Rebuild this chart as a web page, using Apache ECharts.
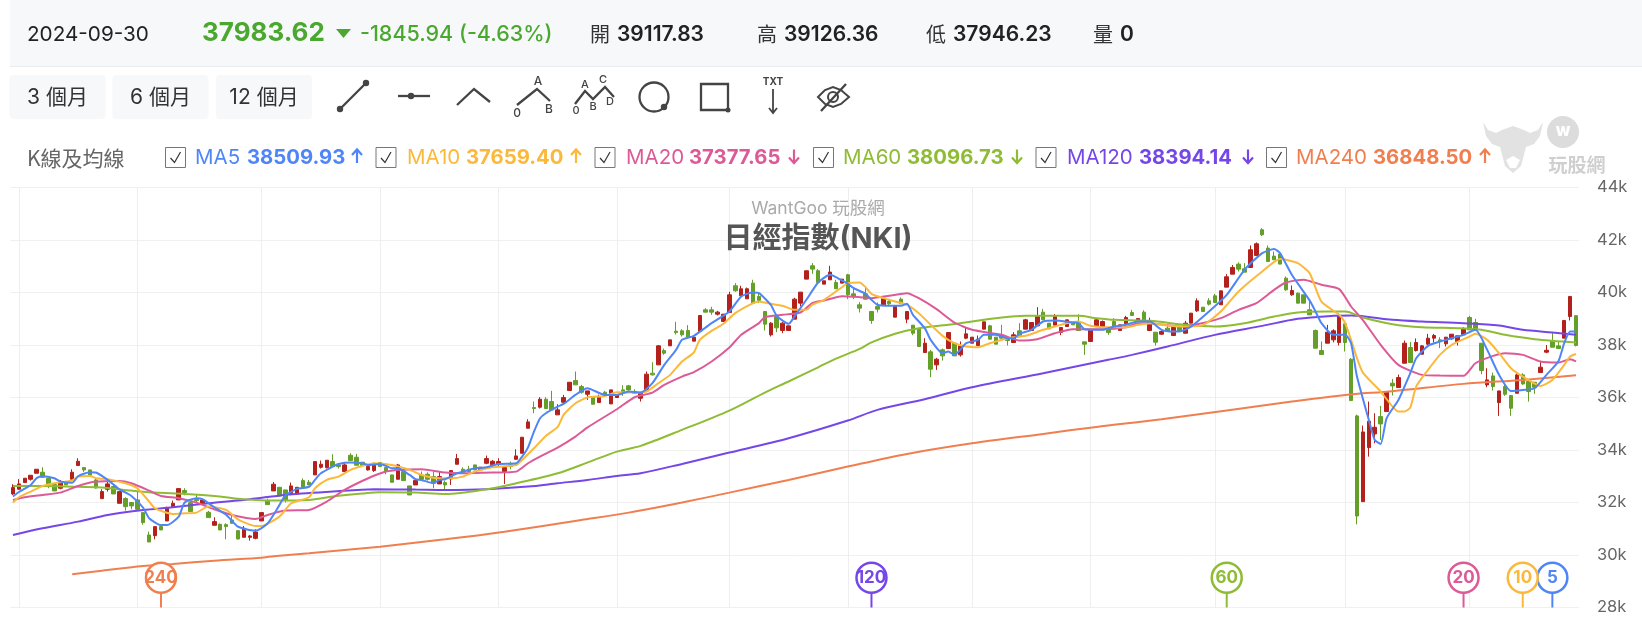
<!DOCTYPE html>
<html><head><meta charset="utf-8">
<script src="https://cdn.jsdelivr.net/npm/echarts@6/dist/echarts.min.js"></script>
<style>html,body{margin:0;padding:0;background:#fff}#c{width:1642px;height:624px}</style>
</head><body><div id="c"></div>
<script>
// [open, close, low, high]
const ohlc = [
[32326,32568,32290,32695],[32505,32708,32480,32890],[32760,32925,32760,32925],[32885,33038,32835,33038],[33114,33267,33114,33267],
[33153,32962,32962,33343],[32924,32670,32543,32924],[32682,32441,32441,32682],[32543,32771,32500,32860],[32771,32670,32670,32771],
[32885,33153,32860,33267],[33407,33572,33407,33687],[33330,33241,33165,33330],[33241,33038,33000,33241],[32860,32555,32530,32910],
[32148,32415,32148,32505],[32505,32708,32415,32797],[32606,32326,32326,32670],[31970,32415,31970,32415],[32148,31843,31690,32200],
[32000,31870,31740,32000],[32100,31740,31740,32415],[31615,31233,31157,31615],[30763,30496,30496,30890],[30738,31081,30598,31081],
[31081,30954,30954,31145],[31297,31780,31297,31843],[31843,31970,31843,32072],[32098,32530,32098,32530],[32454,32378,32275,32543],
[31995,31653,31653,32100],[32123,32072,31970,32301],[31970,32098,31945,32123],[31627,31424,31424,31680],[31132,31272,31132,31437],
[31170,30954,30954,31200],[31157,31081,30598,31208],[31335,31208,31208,31500],[30928,30610,30598,30928],[30674,31017,30674,31106],
[30674,30725,30547,30763],[30636,30877,30598,30979],[31297,31615,31297,31615],[32072,31920,31920,32148],[32441,32695,32441,32780],
[32580,32250,32250,32580],[32479,32098,32000,32479],[32326,32632,32275,32760],[32326,32580,32326,32580],[32834,32555,32555,32920],
[32771,32670,32670,32860],[33051,33560,33051,33560],[33343,33458,33293,33598],[33330,33610,33293,33610],[33560,33369,33369,33839],
[33432,33369,33293,33432],[33178,33432,33178,33490],[33800,33597,33597,33877],[33725,33420,33420,33852],[33534,33407,33407,33534],
[33241,33369,33216,33432],[33216,33470,33165,33520],[33521,33369,33369,33521],[33330,33178,33076,33330],[33051,32771,32771,33051],
[32885,33432,32885,33470],[33178,32834,32834,33178],[32631,32288,32288,32631],[32669,32834,32669,32900],[33050,32885,32834,33180],
[33076,32885,32834,33150],[32987,32733,32542,33178],[32707,32987,32707,33178],[32758,32669,32504,32834],[32898,33215,32669,33215],
[33457,33673,33457,33850],[33266,33139,33139,33342],[33266,33177,33177,33393],[33431,33241,33241,33431],[33241,33342,33241,33342],
[33495,33673,33457,33787],[33444,33571,33444,33622],[33469,33558,33368,33685],[33177,33329,32707,33329],[33431,33368,33266,33558],
[33647,33774,33622,34029],[33876,34486,33876,34486],[34829,35071,34829,35173],[35618,35580,35402,35847],[35630,35935,35580,36012],
[35935,35580,35580,36012],[35846,35529,35529,36253],[35339,35529,35339,35745],[35820,35998,35782,36100],[36265,36582,36265,36582],
[36646,36481,36481,36989],[36417,36201,36150,36481],[36125,36252,35909,36252],[36010,35743,35743,36010],[35807,36010,35807,36110],
[36201,36087,36087,36252],[35756,36290,35756,36290],[36000,36100,36000,36100],[36290,36227,36061,36468],[36443,36290,36252,36481],
[36227,36163,36163,36316],[35972,36163,35845,36163],[36265,36888,36265,36989],[36926,36862,36837,37345],[37243,37968,37243,38000],
[37790,37689,37625,37866],[37968,38197,37968,38197],[38527,38476,38400,38883],[38540,38387,38324,38603],[38552,38298,38298,38756],
[38146,38298,38146,38298],[38514,39124,38514,39124],[39341,39252,39252,39404],[39341,39252,39150,39455],[39175,39252,39124,39302],
[38896,39175,38896,39175],[39239,39912,39239,40027],[40256,40065,40027,40357],[39874,40141,39874,40256],[39760,40141,39760,40190],
[40357,39595,39595,40484],[39849,39696,39595,39976],[39277,38794,38552,39277],[38387,38832,38324,38870],[39086,38654,38489,39086],
[38552,38832,38451,38870],[38552,38730,38552,38730],[38985,39747,38985,39800],[39595,40014,39468,40014],[40510,40828,40510,40828],
[41018,40891,40713,41120],[40828,40383,40383,40891],[40319,40446,40319,40446],[40484,40777,40484,41018],[40383,40141,40141,40484],
[40357,40510,40357,40510],[40675,39912,39747,40713],[39950,39850,39747,40205],[39531,39404,39239,39633],[39950,39747,39747,40205],
[39277,38934,38806,39277],[39468,39366,39239,39620],[39531,39785,39531,39785],[39658,39570,39493,39722],[39060,39468,39060,39468],
[39747,39570,39570,39811],[38984,39277,38832,39277],[38755,38450,38374,38755],[38603,37942,37942,38603],[37713,38069,37713,38260],
[37739,37078,36773,37815],[37243,37459,37052,37510],[37815,37586,37408,37866],[37866,38476,37866,38476],[38069,37586,37586,38069],
[37624,37967,37560,38133],[38260,38425,38222,38654],[38069,38298,38069,38298],[37980,38222,37980,38362],[38603,38883,38603,38883],
[38730,38222,38222,38768],[38298,38031,38031,38298],[38350,38260,38196,38768],[38260,38171,37980,38260],[38095,38387,38095,38489],
[38540,38349,38349,38832],[38603,38959,38603,38997],[38552,38857,38552,38857],[38730,39086,38730,39442],[39251,38959,38959,39378],
[38832,38616,38616,38832],[38755,39086,38755,39180],[38476,38666,38374,38666],[38705,38959,38705,38959],[38849,38768,38768,38849],
[38832,38552,38552,39175],[38120,38031,37624,38120],[38133,38578,38133,38578],[38730,38959,38730,39000],[38679,38895,38679,38934],
[38641,38476,38387,38641],[38895,38641,38641,39023],[38552,38768,38552,38768],[38806,39048,38806,39112],[39239,39124,39124,39340],
[38950,39010,38950,39010],[39251,38920,38920,39325],[38552,38920,38552,39040],[38488,38107,37980,38488],[38412,38513,38387,38564],
[38641,38513,38513,38768],[38361,38666,38361,38730],[38704,38513,38513,38704],[38450,38831,38450,38920],[38831,39213,38831,39213],
[39301,39683,39260,39780],[39441,39276,39276,39441],[39683,39556,39505,39785],[39873,39619,39619,39950],[39531,40064,39531,40064],
[40204,40598,40204,40700],[40700,40954,40700,41050],[41081,40890,40800,41150],[40903,40776,40776,41119],[40954,41627,40954,41793],
[41411,41856,41411,41907],[42390,42199,42150,42450],[41691,41183,41183,41793],[41386,41246,41246,41564],[41462,41081,41081,41500],
[40547,40102,40064,40610],[39912,40077,39875,40268],[39975,39594,39594,40000],[39912,39594,39594,39912],[39340,39149,39149,39683],
[38552,37879,37879,38590],[37790,37637,37637,38133],[38069,38489,38069,38768],[38196,38540,38100,38600],[38095,39086,37980,39213],
[38806,38095,37752,38806],[37459,35883,35883,37500],[35298,31485,31168,35350],[32032,34688,32032,34930],[34091,35095,33748,35845],
[34612,34866,34256,35400],[35273,34993,34383,35680],[35464,36226,35464,36226],[36544,36442,36074,36709],[36379,36760,36379,36874],
[37306,38069,37306,38171],[37904,37332,37332,38120],[37790,38095,37751,38247],[37650,37967,37650,38000],[38031,38260,37980,38425],
[38260,38362,38095,38425],[38197,38158,37879,38298],[38044,38298,37942,38298],[38235,38412,38200,38412],[38133,38349,37980,38349],
[38387,38603,38387,38680],[39048,38578,38578,39112],[38857,38616,38616,38997],[38069,37027,36887,38069],[36480,36671,36391,37116],
[36823,36417,36264,36950],[35807,36251,35299,36251],[36417,36124,36061,36480],[36073,35591,35299,36073],[36162,36861,36162,36925],
[36861,36518,36480,36925],[36607,36226,35845,36607],[36582,36391,36137,36582],[36951,37154,36951,37370],[37727,37800,37688,38000],
[38158,37917,37917,38450],[37968,37866,37866,38133],[38260,38934,38260,38934],[39086,39849,38934,39849],[39117.83,37983.62,37946.23,39126.36]
];
const categories = ohlc.map((_, i) => String(i));
const monthStarts = [1,21,42,62,82,102,121,141,162,182,203,225,246];
const yTicks = ['28k','30k','32k','34k','36k','38k','40k','42k','44k'];

const ma5 = [[0,32225],[1,32400],[3,32670],[4,32930],[5,33000],[7,32924],[8,32800],[10,32748],[11,33000],[13,33153],[14,33140],[16,32860],[18,32500],[20,32250],[22,31800],[23,31400],[25,31140],[26,31140],[28,31460],[29,32000],[31,32160],[32,32125],[34,31820],[36,31530],[38,31080],[40,30950],[41,30930],[43,31200],[45,31900],[46,32270],[48,32520],[50,32600],[51,32860],[52,33113],[54,33368],[55,33470],[57,33520],[59,33495],[60,33431],[62,33470],[63,33393],[64,33304],[65,33304],[67,33050],[68,32885],[69,32860],[71,32733],[72,32860],[73,32885],[75,33113],[77,33241],[78,33304],[80,33342],[82,33470],[85,33495],[86,33749],[87,34100],[88,34700],[89,35200],[90,35400],[92,35650],[93,35756],[95,36100],[97,36354],[100,36100],[102,36100],[104,36227],[106,36188],[108,36544],[110,37243],[112,37815],[113,38197],[115,38349],[118,38832],[121,39277],[123,39849],[125,40001],[126,39976],[128,39531],[129,39112],[131,38807],[132,39086],[134,39722],[136,40383],[138,40675],[140,40459],[141,40332],[142,40166],[144,39950],[145,39722],[146,39531],[148,39493],[150,39493],[151,39569],[152,39150],[154,38641],[155,38196],[157,37688],[158,37751],[159,37624],[160,37815],[161,38069],[163,38196],[164,38387],[166,38387],[168,38260],[169,38260],[170,38425],[172,38578],[174,38895],[176,38933],[179,38857],[180,38832],[181,38603],[184,38578],[186,38705],[188,38768],[190,38895],[192,38895],[194,38577],[196,38513],[197,38513],[199,38704],[202,39276],[205,39911],[208,40865],[211,41500],[213,41653],[214,41500],[216,40674],[219,39700],[220,39276],[221,38832],[223,38387],[225,38387],[226,38069],[227,36798],[229,35146],[230,34383],[231,34231],[232,35209],[234,35908],[236,36925],[237,37497],[239,37967],[241,38133],[243,38260],[245,38387],[247,38578],[249,37815],[251,36862],[253,36252],[255,36290],[257,36353],[259,36862],[261,37370],[262,38069],[263,38514],[264,38509.93]];
const ma10 = [[0,32000],[1,32200],[3,32415],[5,32630],[7,32733],[10,32835],[11,32987],[13,33013],[14,32924],[16,32886],[19,32733],[21,32542],[23,32034],[24,31780],[27,31564],[29,31589],[31,31615],[33,31843],[36,31716],[38,31360],[41,31106],[42,31106],[45,31462],[47,31970],[50,32200],[51,32541],[53,32860],[55,32987],[57,33241],[59,33393],[61,33495],[64,33431],[67,33241],[69,33050],[72,32923],[74,32923],[76,32987],[78,33177],[81,33342],[85,33431],[86,33622],[88,34067],[90,34537],[92,34880],[93,35337],[95,35782],[97,35998],[100,36061],[102,36201],[105,36188],[107,36227],[109,36544],[111,36862],[113,37370],[115,37714],[116,38197],[118,38540],[120,38807],[122,39213],[125,39595],[126,39658],[128,39569],[130,39493],[132,39340],[134,39340],[135,39531],[137,39722],[140,40200],[141,40357],[143,40382],[144,40204],[145,39950],[147,39785],[149,39658],[151,39531],[153,39213],[155,38768],[157,38349],[159,38069],[161,37942],[163,37916],[165,38069],[168,38260],[171,38349],[174,38578],[176,38705],[178,38832],[180,38895],[182,38730],[184,38679],[188,38679],[190,38768],[192,38831],[195,38742],[198,38704],[201,38768],[204,39276],[207,40039],[211,40801],[214,41272],[217,41119],[219,40738],[221,39650],[224,39149],[225,38832],[226,38200],[227,37500],[228,36950],[231,36226],[233,35654],[234,35464],[235,35464],[236,35616],[237,36417],[239,37052],[241,37624],[243,38006],[246,38323],[247,38425],[249,38196],[251,37688],[253,37116],[255,36798],[258,36442],[260,36671],[262,37243],[263,37561],[264,37659.40]];
const ma20 = [[0,32098],[2,32200],[5,32288],[8,32377],[11,32631],[14,32796],[18,32822],[20,32733],[23,32454],[25,32250],[28,32161],[31,31995],[34,31742],[37,31526],[41,31373],[43,31526],[46,31691],[50,31716],[53,32034],[56,32479],[60,32924],[63,33178],[65,33241],[69,33266],[73,33139],[76,33113],[81,33139],[85,33177],[87,33495],[89,33748],[92,34091],[95,34511],[97,34854],[102,35553],[105,36010],[108,36188],[110,36481],[113,36798],[115,36964],[118,37370],[121,37904],[123,38387],[126,38832],[127,39061],[130,39150],[133,39239],[135,39595],[137,39696],[140,39860],[143,39823],[145,39785],[148,39874],[151,39976],[153,39785],[156,39366],[159,38857],[162,38578],[167,38387],[170,38171],[173,38222],[176,38450],[179,38603],[184,38603],[188,38679],[190,38832],[192,38831],[197,38704],[200,38793],[204,39022],[207,39340],[210,39594],[213,40102],[215,40382],[218,40490],[221,40293],[224,40128],[226,39467],[228,38950],[231,38006],[234,37243],[238,36862],[241,36836],[245,36824],[247,37306],[250,37586],[252,37688],[255,37624],[258,37370],[261,37332],[263,37459],[264,37377.65]];
const ma60 = [[0,32632],[5,32632],[9,32606],[15,32568],[20,32454],[24,32377],[29,32326],[34,32250],[39,32123],[44,32072],[50,32098],[54,32225],[59,32340],[62,32389],[68,32377],[73,32326],[80,32504],[85,32733],[92,33113],[97,33519],[102,33939],[106,34156],[113,34766],[121,35503],[127,36189],[131,36609],[136,37150],[139,37480],[143,37850],[145,38100],[149,38430],[153,38641],[158,38768],[162,38895],[167,39048],[171,39112],[176,39112],[180,39112],[183,39022],[186,38959],[192,38920],[198,38768],[203,38704],[208,38831],[213,39085],[217,39238],[222,39276],[225,39277],[228,39048],[233,38794],[238,38679],[244,38641],[248,38578],[252,38387],[257,38222],[264,38096.73]];
const ma120 = [[0,30763],[5,31017],[11,31271],[16,31526],[22,31716],[27,31818],[33,31970],[40,32123],[46,32288],[54,32415],[61,32504],[68,32491],[73,32478],[80,32504],[87,32605],[92,32733],[97,32858],[102,33011],[106,33114],[113,33470],[121,33902],[131,34448],[141,35122],[146,35528],[154,35935],[162,36393],[174,36927],[185,37435],[189,37624],[195,37942],[203,38386],[211,38729],[217,38996],[223,39111],[226,39124],[233,38959],[238,38895],[245,38832],[251,38743],[255,38578],[260,38476],[264,38394.14]];
const ma240 = [[10,29263],[15,29403],[22,29581],[27,29657],[34,29784],[42,29899],[45,29970],[50,30064],[62,30318],[73,30598],[83,30890],[96,31335],[104,31614],[113,32000],[121,32376],[131,32860],[141,33368],[151,33851],[162,34257],[174,34613],[183,34880],[194,35173],[216,35845],[225,36099],[233,36240],[245,36519],[255,36671],[264,36848.50]];

const maNames = ['MA5','MA10','MA20','MA60','MA120','MA240'];
const maLast = ['38509.93','37659.40','37377.65','38096.73','38394.14','36848.50'];
const maRising = [true,true,false,false,false,true];
const maColors = ['#4f86f7','#fbb93c','#dc5a96','#8fbc35','#7546e8','#f07f4f'];
const maBadges = ['5','10','20','60','120','240'];
const badgeIndex = [260,255,245,205,145,25];
const badgeValue = 29136;
const rangeButtons = ['3 個月','6 個月','12 個月'];
const quote = {date:'2024-09-30',last:'37983.62',change:'-1845.94 (-4.63%)',open:'39117.83',high:'39126.36',low:'37946.23',vol:'0'};

const FF = 'Inter, "Noto Sans CJK TC", sans-serif';
const CJK = '"Noto Sans CJK TC", Inter, sans-serif';
const txt = (text,x,y,font,fill,align) => ({type:'text',silent:true,z:10,style:{text,x,y,font,fill,align:align||'left',verticalAlign:'middle'}});
const pline = (points,stroke,w) => ({type:'polyline',silent:true,z:10,shape:{points},style:{stroke,lineWidth:w||2.3,fill:null}});
const dot = (cx,cy,r,fill) => ({type:'circle',silent:true,z:10,shape:{cx,cy,r},style:{fill}});
const ICON = '#444';
const g = [];
// header band
g.push({type:'rect',silent:true,z:1,shape:{x:10,y:0,width:1632,height:66},style:{fill:'#f7f8fa'}});
g.push({type:'rect',silent:true,z:1,shape:{x:10,y:66,width:1632,height:1},style:{fill:'#e9ecef'}});
g.push(txt(quote.date,27,35,'400 20.7px '+FF,'#222'));
g.push(txt(quote.last,202,33.5,'700 26px '+FF,'#4aa82f'));
g.push({type:'polygon',silent:true,z:10,shape:{points:[[336,29],[351,29],[343.5,38]]},style:{fill:'#4aa82f'}});
g.push(txt(quote.change,360,35,'500 21.5px '+FF,'#4aa82f'));
[['開',quote.open,590,617],['高',quote.high,757,784],['低',quote.low,926,953],['量',quote.vol,1093,1120]].forEach(a=>{
  g.push(txt(a[0],a[2],34.5,'400 20px '+CJK,'#333'));
  g.push(txt(a[1],a[3],34.5,'600 21px '+FF,'#222'));
});
// range buttons
[[9.5,96],[112.5,96],[216,96]].forEach((b,i)=>{
  g.push({type:'rect',silent:true,z:2,shape:{x:b[0],y:75,width:b[1],height:44,r:4},style:{fill:'#f7f8fa'}});
  g.push(txt(rangeButtons[i],b[0]+b[1]/2,97.5,'400 21px '+FF,'#333','center'));
});
// drawing tools
g.push(pline([[340,109],[366,83]],ICON)); g.push(dot(340,109,3.2,ICON)); g.push(dot(366,83,3.2,ICON));
g.push(pline([[398,96],[430,96]],ICON)); g.push(dot(411,96,3.2,ICON));
g.push(pline([[457,105],[474,89],[490,102]],ICON));
g.push(pline([[517,105],[537,89],[550,101]],ICON));
g.push(txt('A',538,81,'500 12px '+FF,ICON,'center')); g.push(txt('0',517,113,'500 12px '+FF,ICON,'center')); g.push(txt('B',549,109,'500 12px '+FF,ICON,'center'));
g.push(pline([[575,104],[585,91],[593,99],[605,87],[614,97]],ICON));
g.push(txt('A',585,85,'500 11px '+FF,ICON,'center')); g.push(txt('C',603,80,'500 11px '+FF,ICON,'center')); g.push(txt('0',576,111,'500 11px '+FF,ICON,'center')); g.push(txt('B',593,107,'500 11px '+FF,ICON,'center')); g.push(txt('D',610,102,'500 11px '+FF,ICON,'center'));
g.push({type:'circle',silent:true,z:10,shape:{cx:654,cy:97,r:14.5},style:{stroke:ICON,lineWidth:2.3,fill:null}}); g.push(dot(664,107,3.2,ICON));
g.push({type:'rect',silent:true,z:10,shape:{x:701,y:84,width:27,height:26},style:{stroke:ICON,lineWidth:2.3,fill:null}}); g.push(dot(728,110,2.5,ICON));
g.push(txt('TXT',773,82,'700 10px '+FF,ICON,'center'));
g.push(pline([[773,89],[773,113]],ICON,1.8)); g.push(pline([[769,108],[773,113],[777,108]],ICON,1.8));
g.push({type:'polygon',silent:true,z:10,shape:{points:[[818,97],[825,90],[833,87],[841,90],[849,97],[841,104],[833,107],[825,104]]},style:{stroke:ICON,lineWidth:2,fill:null}});
g.push({type:'circle',silent:true,z:10,shape:{cx:833,cy:97,r:5},style:{stroke:ICON,lineWidth:2,fill:null}});
g.push(pline([[821,111],[846,84]],ICON));
// legend row
g.push(txt('K線及均線',27,158,'400 21px '+CJK,'#666'));
const boxX=[165.5,376,595,813.5,1036,1266.5], nameX=[195,407,626,843,1067,1296], valX=[247,466,689,907,1139,1373], arrX=[357,576,794,1017,1248,1485];
maNames.forEach((n,i)=>{
  g.push({type:'rect',silent:true,z:10,shape:{x:boxX[i],y:147.5,width:20,height:20},style:{fill:'#fff',stroke:'#777',lineWidth:1}});
  g.push(pline([[boxX[i]+5,158],[boxX[i]+9,162.5],[boxX[i]+15,152]],'#333',1.2));
  g.push(txt(n,nameX[i],158,'400 20.5px '+FF,maColors[i]));
  g.push(txt(maLast[i],valX[i],158,'700 20.3px '+FF,maColors[i]));
  const ax=arrX[i], tip=maRising[i]?149.5:163, tail=maRising[i]?163:149.5, d=maRising[i]?5.5:-5.5;
  g.push(pline([[ax,tail],[ax,tip]],maColors[i],2.2));
  g.push(pline([[ax-5,tip+d],[ax,tip],[ax+5,tip+d]],maColors[i],2.2));
});
// watermark
const LOGO='#e2e2e2';
g.push({type:'polygon',silent:true,z:3,shape:{points:[[1483,122],[1486,136],[1492,144],[1500,147],[1505,166],[1513,173],[1521,166],[1526,147],[1534,144],[1540,136],[1543,122],[1538,130],[1530,133],[1524,130],[1513,126],[1502,130],[1496,133],[1488,130]]},style:{fill:LOGO}});
g.push({type:'polygon',silent:true,z:4,shape:{points:[[1506,160],[1513,156],[1520,160],[1516,168],[1510,168]]},style:{fill:'#fff'}});
g.push({type:'circle',silent:true,z:3,shape:{cx:1563,cy:132,r:16},style:{fill:'#dcdcdc'}});
g.push(txt('w',1563,131,'800 17px '+FF,'#fff','center'));
g.push(txt('玩股網',1577,165,'700 19px '+CJK,'#cfcfcf','center'));

const lineSeries = [ma240,ma120,ma60,ma20,ma10,ma5].map((d,k)=>{
  const i = 5-k;
  return {name:maNames[i],type:'line',data:d,showSymbol:false,smooth:i<3?0.2:0.3,connectNulls:true,z:3+k*0.1,
    lineStyle:{color:maColors[i],width:2},itemStyle:{color:maColors[i]},animation:false,silent:true};
});
const stems = badgeIndex.map((x,i)=>({type:'line',animation:false,silent:true,z:5,
  data:[{value:[x,28000],symbol:'triangle',symbolSize:[8,5],itemStyle:{color:maColors[i]}},{value:[x,badgeValue],symbol:'none'}],
  lineStyle:{color:maColors[i],width:2}}));
const badges = {type:'scatter',animation:false,silent:true,z:6,symbol:'circle',symbolSize:30,
  data:badgeIndex.map((x,i)=>({value:[x,badgeValue],
    itemStyle:{color:'#fff',borderColor:maColors[i],borderWidth:2.5,opacity:1},
    label:{show:true,position:'inside',formatter:maBadges[i],color:maColors[i],fontFamily:FF,fontWeight:700,fontSize:17}}))};

const chart = echarts.init(document.getElementById('c'));
chart.setOption({
  animation:false,backgroundColor:'#fff',
  title:[{text:'WantGoo 玩股網',left:813,top:195,textAlign:'center',textStyle:{color:'#aaa',fontSize:17.5,fontWeight:400,fontFamily:FF}},
         {text:'日經指數(NKI)',left:813,top:220,textAlign:'center',textStyle:{color:'#555',fontSize:29,fontWeight:700,fontFamily:FF}}],
  grid:{left:10,right:63,top:187.5,bottom:16.5},
  xAxis:{type:'category',data:categories,boundaryGap:true,axisLine:{show:false},axisTick:{show:false},axisLabel:{show:false},splitLine:{show:false}},
  yAxis:{type:'value',position:'right',min:28000,max:44000,interval:2000,axisLine:{show:false},axisTick:{show:false},
    splitLine:{show:true,lineStyle:{color:'#f0f0f0',width:1}},
    axisLabel:{margin:18,color:'#666',fontFamily:FF,fontSize:16.5,formatter:(v)=>yTicks[(v-28000)/2000]}},
  graphic:g,
  series:[
    {type:'candlestick',data:ohlc,barWidth:4,z:2,animation:false,silent:true,
     itemStyle:{color:'#b3211c',color0:'#649f2a',borderColor:'#b3211c',borderColor0:'#649f2a',borderWidth:1},
     markLine:{silent:true,symbol:'none',animation:false,z:0,label:{show:false},lineStyle:{color:'#eeeeee',width:1,type:'solid'},
       data:monthStarts.map(i=>({xAxis:i}))}},
    ...lineSeries,...stems,badges
  ]
});
</script></body></html>
